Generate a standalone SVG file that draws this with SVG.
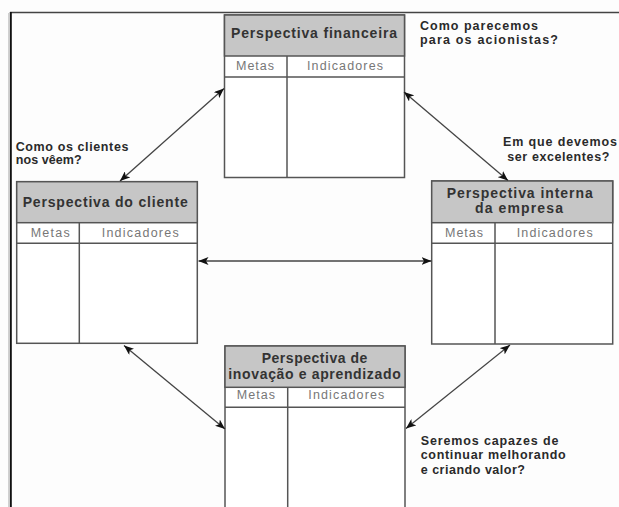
<svg xmlns="http://www.w3.org/2000/svg" width="619" height="507" viewBox="0 0 619 507">
  <style>
    .frame { fill: none; stroke: #444; stroke-width: 1.5; }
    .edge { fill: none; stroke: #111; stroke-width: 2; }
    .box { fill: #fff; stroke: #555; stroke-width: 1.5; }
    .head { fill: #c6c6c6; stroke: #555; stroke-width: 1.5; }
    .rule { fill: none; stroke: #555; stroke-width: 1.5; }
    .title { font-family: "Liberation Sans", Arial, sans-serif; font-weight: bold; font-size: 14px; fill: #333; }
    .col { font-family: "Liberation Sans", Arial, sans-serif; font-size: 12.5px; fill: #777; }
    .note { font-family: "Liberation Sans", Arial, sans-serif; font-weight: bold; font-size: 12.5px; fill: #2a2a2a; }
    .link { fill: none; stroke: #444; stroke-width: 1.3; marker-start: url(#tip); marker-end: url(#tip); }
  </style>
  <defs>
    <marker id="tip" viewBox="0 0 10 8" refX="10" refY="4" markerWidth="10" markerHeight="8" markerUnits="userSpaceOnUse" orient="auto-start-reverse">
      <path d="M0,0 L10,4 L0,8 L2.5,4 z" fill="#111"/>
    </marker>
  </defs>

  <rect width="619" height="507" fill="#fdfdfd"/>

  <!-- page frame -->
  <line x1="8.5" y1="13" x2="8.5" y2="507" stroke="#d0d0d0" stroke-width="1"/>
  <line class="frame" x1="10" y1="12.5" x2="619" y2="12.5"/>
  <line class="edge" x1="10.8" y1="12" x2="10.8" y2="507"/>

  <!-- financial perspective -->
  <g id="financeira">
    <rect class="box" x="224.5" y="15" width="180" height="162.5"/>
    <rect class="head" x="224.5" y="15" width="180" height="41"/>
    <line class="rule" x1="224.5" y1="77" x2="404.5" y2="77"/>
    <line class="rule" x1="287" y1="56" x2="287" y2="177.5"/>
    <text class="title" x="231" y="38.3" textLength="166" lengthAdjust="spacing">Perspectiva financeira</text>
    <text class="col" x="236" y="70" textLength="38" lengthAdjust="spacing">Metas</text>
    <text class="col" x="307" y="70" textLength="76" lengthAdjust="spacing">Indicadores</text>
  </g>

  <!-- customer perspective -->
  <g id="cliente">
    <rect class="box" x="16.7" y="181.7" width="180.6" height="161.6"/>
    <rect class="head" x="16.7" y="181.7" width="180.6" height="41"/>
    <line class="rule" x1="16.7" y1="243.3" x2="197.3" y2="243.3"/>
    <line class="rule" x1="79.3" y1="222.7" x2="79.3" y2="343.3"/>
    <text class="title" x="22.7" y="207.3" textLength="165" lengthAdjust="spacing">Perspectiva do cliente</text>
    <text class="col" x="30.7" y="236.7" textLength="39" lengthAdjust="spacing">Metas</text>
    <text class="col" x="101.7" y="236.7" textLength="77" lengthAdjust="spacing">Indicadores</text>
  </g>

  <!-- internal business perspective -->
  <g id="interna">
    <rect class="box" x="431.7" y="181" width="181" height="163"/>
    <rect class="head" x="431.7" y="181" width="181" height="41.7"/>
    <line class="rule" x1="431.7" y1="243.3" x2="612.7" y2="243.3"/>
    <line class="rule" x1="495" y1="222.7" x2="495" y2="344"/>
    <text class="title" x="446.7" y="198" textLength="146" lengthAdjust="spacing">Perspectiva interna</text>
    <text class="title" x="475" y="212.7" textLength="88" lengthAdjust="spacing">da empresa</text>
    <text class="col" x="445" y="236.7" textLength="38" lengthAdjust="spacing">Metas</text>
    <text class="col" x="516.7" y="236.7" textLength="76" lengthAdjust="spacing">Indicadores</text>
  </g>

  <!-- innovation and learning perspective -->
  <g id="inovacao">
    <rect class="box" x="225" y="346" width="180" height="175"/>
    <rect class="head" x="225" y="346" width="180" height="41.3"/>
    <line class="rule" x1="225" y1="407.3" x2="405" y2="407.3"/>
    <line class="rule" x1="287.7" y1="387.3" x2="287.7" y2="521"/>
    <text class="title" x="261.7" y="363.3" textLength="105.6" lengthAdjust="spacing">Perspectiva de</text>
    <text class="title" x="228.3" y="379" textLength="172.4" lengthAdjust="spacing">inovação e aprendizado</text>
    <text class="col" x="236.7" y="399.3" textLength="38.3" lengthAdjust="spacing">Metas</text>
    <text class="col" x="308.3" y="399.3" textLength="76" lengthAdjust="spacing">Indicadores</text>
  </g>

  <!-- questions beside each perspective -->
  <g id="notas">
    <text class="note" x="420" y="29.5" textLength="118" lengthAdjust="spacing">Como parecemos</text>
    <text class="note" x="420" y="44" textLength="138" lengthAdjust="spacing">para os acionistas?</text>
    <text class="note" x="15.7" y="150.7" textLength="112.7" lengthAdjust="spacing">Como os clientes</text>
    <text class="note" x="15.7" y="164" textLength="66" lengthAdjust="spacing">nos vêem?</text>
    <text class="note" x="503" y="146" textLength="114" lengthAdjust="spacing">Em que devemos</text>
    <text class="note" x="507.3" y="160.7" textLength="102" lengthAdjust="spacing">ser excelentes?</text>
    <text class="note" x="420.7" y="445" textLength="137.7" lengthAdjust="spacing">Seremos capazes de</text>
    <text class="note" x="420.7" y="459.3" textLength="145" lengthAdjust="spacing">continuar melhorando</text>
    <text class="note" x="420.7" y="474" textLength="104.3" lengthAdjust="spacing">e criando valor?</text>
  </g>

  <!-- two-way links between perspectives -->
  <g id="conectores">
    <line class="link" x1="120" y1="181" x2="224" y2="88.5"/>
    <line class="link" x1="404" y1="92" x2="508" y2="180.5"/>
    <line class="link" x1="198.5" y1="261" x2="431.5" y2="261"/>
    <line class="link" x1="124" y1="345.5" x2="225" y2="429"/>
    <line class="link" x1="510" y1="345" x2="406" y2="428.5"/>
  </g>
</svg>
